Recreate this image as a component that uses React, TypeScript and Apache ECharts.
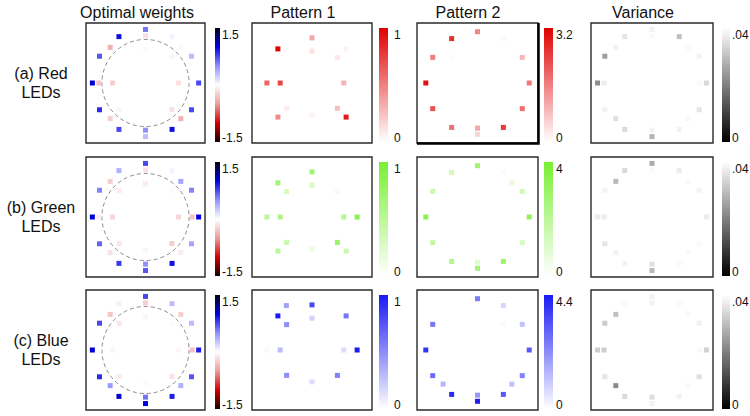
import { useEffect, useRef } from 'react';
import * as echarts from 'echarts';

// LED layout (outer ring A every 30deg, ring B and ring C every 45deg), in LED-board units
const LED_IDS = [
  'A0', 'A30', 'A60', 'A90', 'A120', 'A150', 'A180', 'A210', 'A240', 'A270', 'A300', 'A330',
  'B0', 'B45', 'B90', 'B135', 'B180', 'B225', 'B270', 'B315',
  'C0', 'C45', 'C90', 'C135', 'C180', 'C225', 'C270', 'C315',
];
const LED_X = [
  1, 0.866, 0.5, 0, -0.5, -0.866, -1, -0.866, -0.5, 0, 0.5, 0.866,
  0.88, 0.665, 0, -0.665, -0.88, -0.665, 0, 0.665,
  0.62, 0.495, 0, -0.495, -0.62, -0.495, 0, 0.495,
];
const LED_Y = [
  0, 0.5, 0.866, 1, 0.866, 0.5, 0, -0.5, -0.866, -1, -0.866, -0.5,
  0, 0.665, 0.88, 0.665, 0, -0.665, -0.88, -0.665,
  0, 0.495, 0.62, 0.495, 0, -0.495, -0.62, -0.495,
];

const COLUMN_TITLES = ['Optimal weights', 'Pattern 1', 'Pattern 2', 'Variance'];
const ROW_LABELS = ['(a) Red\nLEDs', '(b) Green\nLEDs', '(c) Blue\nLEDs'];

// Red LEDs
const RED_WEIGHTS = [
  0.75, 0.3, 0.05, 0.6, 0.95, 0.7, 1.02, 0.85, 0.75, 0.3, 0.95, 0.75,
  0, 0.03, -0.15, -0.4, -0.3, -0.25, 0.5, -0.4,
  -0.15, -0.05, -0.03, 0, -0.25, -0.05, 0, -0.15,
];
const RED_PATTERN1 = [
  0, 0, 0, 0, 0, 0, 0, 0, 0, 0, 0, 0,
  0, 0.05, 0.35, 1.0, 0.6, 0.45, 0, 0.9,
  0.3, 0.1, 0.12, 0, 0.72, 0.08, 0.05, 0.25,
];
const RED_PATTERN2 = [
  1.7, 0.9, 0.1, 1.5, 2.6, 1.6, 3.0, 2.2, 1.8, 0.55, 2.5, 1.8,
  0, 0, 0, 0, 0, 0, 1.1, 0,
  0, 0, 0, 0.05, 0, 0, 0, 0,
];
const RED_VARIANCE = [
  0.034, 0.038, 0.030, 0.038, 0.036, 0.025, 0.022, 0.038, 0.034, 0.028, 0.038, 0.036,
  0.039, 0.039, 0.039, 0.038, 0.037, 0.035, 0.038, 0.039,
  0.04, 0.04, 0.04, 0.04, 0.04, 0.04, 0.04, 0.04,
];

// Green LEDs
const GREEN_WEIGHTS = [
  1.0, 0.55, 0.05, 0.75, 0.35, 0.55, 1.02, 0.65, 0.8, 0.7, 0.95, 0.4,
  -0.3, 0.4, -0.15, -0.25, -0.1, -0.15, 0.5, -0.1,
  -0.2, 0.02, -0.1, -0.1, -0.2, -0.12, -0.05, -0.25,
];
const GREEN_PATTERN1 = [
  0, 0, 0, 0, 0, 0, 0, 0, 0, 0, 0, 0,
  0.85, 0, 0.7, 0.7, 0.5, 0.5, 0, 0.4,
  0.55, 0.1, 0.3, 0.3, 0.6, 0.4, 0.15, 0.75,
];
const GREEN_PATTERN2 = [
  3.3, 1.4, 0.2, 2.8, 1.3, 1.6, 3.5, 1.8, 2.3, 2.8, 3.0, 1.2,
  0, 0.7, 0, 0, 0, 0, 1.0, 0,
  0, 0, 0, 0, 0, 0, 0, 0,
];
const GREEN_VARIANCE = [
  0.037, 0.038, 0.037, 0.027, 0.034, 0.038, 0.037, 0.036, 0.038, 0.029, 0.039, 0.039,
  0.04, 0.039, 0.039, 0.029, 0.037, 0.038, 0.035, 0.039,
  0.04, 0.04, 0.04, 0.04, 0.04, 0.04, 0.04, 0.04,
];

// Blue LEDs
const BLUE_WEIGHTS = [
  0.9, 0.3, 0.3, 0.75, -0.08, 0.75, 1.05, 0.85, 1.02, 1.0, 0.9, 0.7,
  -0.3, -0.25, -0.25, -0.3, 0, 0.45, 0.6, 0.35,
  -0.05, 0.02, -0.05, -0.12, -0.05, -0.1, 0.02, -0.15,
];
const BLUE_PATTERN1 = [
  0, 0, 0, 0, 0.4, 0, 0, 0, 0, 0, 0, 0,
  1.0, 0.6, 0.8, 1.0, 0.03, 0, 0, 0,
  0.15, 0, 0.2, 0.5, 0.3, 0.5, 0.15, 0.55,
];
const BLUE_PATTERN2 = [
  3.2, 1.2, 0.8, 2.5, 0, 2.6, 3.9, 2.8, 4.1, 4.3, 3.2, 2.4,
  0, 0, 0, 0, 0, 1.4, 2.0, 1.2,
  0, 0.1, 0, 0, 0, 0, 0, 0,
];
const BLUE_VARIANCE = [
  0.033, 0.038, 0.039, 0.038, 0.039, 0.032, 0.032, 0.036, 0.034, 0.038, 0.038, 0.035,
  0.039, 0.039, 0.038, 0.030, 0.032, 0.022, 0.035, 0.039,
  0.04, 0.04, 0.04, 0.04, 0.04, 0.04, 0.04, 0.04,
];

// colour scales: [min, max] and tick labels [top, bottom]
const WEIGHT_RANGE = [-1.5, 1.5];
const WEIGHT_TICKS = ['1.5', '-1.5'];
const PATTERN1_RANGE = [0, 1];
const PATTERN1_TICKS = ['1', '0'];
const PATTERN2_MAX = [3.2, 4, 4.4];
const PATTERN2_TICKS = ['3.2', '4', '4.4'];
const VARIANCE_RANGE = [0, 0.04];
const VARIANCE_TICKS = ['.04', '0'];

const DASHED_CIRCLE_RADIUS = 0.82;

// styles
const WEIGHT_COLORS = ['#140000', '#d20000', '#eb9c9c', '#ffffff', '#9090ff', '#0000e0', '#000014'];
const RED_COLORS = ['#ffffff', '#e00000'];
const GREEN_COLORS = ['#ffffff', '#78f032'];
const BLUE_COLORS = ['#ffffff', '#1a1af5'];
const GRAY_COLORS = ['#000000', '#ffffff'];

const FONT = 'Liberation Sans, Arial, Helvetica, sans-serif';
const PANEL_LEFT = [86, 252, 417, 591];
const PANEL_W = [119, 120, 121, 122];
const ROW_TOP = [23, 157, 290];
const PANEL_H = 120;
const AXIS_HALF = [1.12, 1.17, 1.17, 1.12];
const CB_LEFT = [215, 379, 544, 722];
const CB_W = [5, 9, 9, 8];
const CB_LABEL_X = [222, 394, 556, 732];
const TITLE_X = [137, 303, 468, 643];

export default function App() {
  const ref = useRef<HTMLDivElement>(null);

  useEffect(() => {
    if (!ref.current) return;
    const chart = echarts.init(ref.current, undefined, { renderer: 'svg' });

    const rows = [
      [RED_WEIGHTS, RED_PATTERN1, RED_PATTERN2, RED_VARIANCE],
      [GREEN_WEIGHTS, GREEN_PATTERN1, GREEN_PATTERN2, GREEN_VARIANCE],
      [BLUE_WEIGHTS, BLUE_PATTERN1, BLUE_PATTERN2, BLUE_VARIANCE],
    ];
    const rowColors = [RED_COLORS, GREEN_COLORS, BLUE_COLORS];

    const grid: any[] = [];
    const xAxis: any[] = [];
    const yAxis: any[] = [];
    const series: any[] = [];
    const visualMap: any[] = [];
    const graphic: any[] = [];

    COLUMN_TITLES.forEach((t, c) => {
      graphic.push({
        type: 'text', x: TITLE_X[c], y: 12,
        style: { text: t, font: `16px ${FONT}`, fill: '#111', textAlign: 'center', textVerticalAlign: 'middle' },
      });
    });

    for (let r = 0; r < 3; r++) {
      graphic.push({
        type: 'text', x: 41, y: ROW_TOP[r] + 60,
        style: { text: ROW_LABELS[r], font: `16px ${FONT}`, fill: '#111', textAlign: 'center', textVerticalAlign: 'middle', lineHeight: 19 },
      });
      for (let c = 0; c < 4; c++) {
        const idx = r * 4 + c;
        const top = ROW_TOP[r];
        const h = AXIS_HALF[c];
        grid.push({
          left: PANEL_LEFT[c], top, width: PANEL_W[c], height: PANEL_H,
          show: true, borderColor: '#2a2a2a', borderWidth: 1.4, backgroundColor: '#fff',
        });
        xAxis.push({ gridIndex: idx, type: 'value', min: -h, max: h, show: false });
        yAxis.push({ gridIndex: idx, type: 'value', min: -h, max: h, show: false });
        const vals = rows[r][c];
        series.push({
          type: 'scatter', xAxisIndex: idx, yAxisIndex: idx,
          symbol: 'rect', symbolSize: 5,
          data: LED_X.map((x, i) => ({ name: LED_IDS[i], value: [x, LED_Y[i], vals[i]] })),
          itemStyle: { opacity: 1 },
          silent: true,
        });

        let min = 0, max = 1, colors = rowColors[r], ticks = PATTERN1_TICKS;
        if (c === 0) { min = WEIGHT_RANGE[0]; max = WEIGHT_RANGE[1]; colors = WEIGHT_COLORS; ticks = WEIGHT_TICKS; }
        else if (c === 1) { min = PATTERN1_RANGE[0]; max = PATTERN1_RANGE[1]; ticks = PATTERN1_TICKS; }
        else if (c === 2) { min = 0; max = PATTERN2_MAX[r]; ticks = [PATTERN2_TICKS[r], '0']; }
        else { min = VARIANCE_RANGE[0]; max = VARIANCE_RANGE[1]; colors = GRAY_COLORS; ticks = VARIANCE_TICKS; }

        visualMap.push({
          type: 'continuous', show: false, seriesIndex: idx, dimension: 2,
          min, max, inRange: { color: colors },
        });

        // colorbar
        const stops = colors.slice().reverse().map((col, k, arr) => ({ offset: k / (arr.length - 1), color: col }));
        graphic.push({
          type: 'rect',
          shape: { x: CB_LEFT[c], y: top + 5, width: CB_W[c], height: 114 },
          style: { fill: { type: 'linear', x: 0, y: 0, x2: 0, y2: 1, colorStops: stops } },
        });
        graphic.push({
          type: 'text', x: CB_LABEL_X[c], y: top + 12,
          style: { text: ticks[0], font: `12px ${FONT}`, fill: '#111', textAlign: 'left', textVerticalAlign: 'middle' },
        });
        graphic.push({
          type: 'text', x: CB_LABEL_X[c], y: top + 115,
          style: { text: ticks[1], font: `12px ${FONT}`, fill: '#111', textAlign: 'left', textVerticalAlign: 'middle' },
        });
      }
    }

    // dashed circles on optimal-weight panels
    for (let r = 0; r < 3; r++) {
      const idx = r * 4;
      series.push({
        type: 'custom', xAxisIndex: idx, yAxisIndex: idx, silent: true, z: 1,
        data: [[0, 0]],
        renderItem: (_p: any, api: any) => {
          const ctr = api.coord([0, 0]);
          const rad = api.size([DASHED_CIRCLE_RADIUS, 0])[0];
          return {
            type: 'circle',
            shape: { cx: ctr[0], cy: ctr[1], r: rad },
            style: { fill: 'none', stroke: '#8a8a8a', lineWidth: 1, lineDash: [4, 3] },
          };
        },
      });
    }

    // heavier frame edge on the red pattern-2 panel
    graphic.push({
      type: 'polyline',
      shape: { points: [[PANEL_LEFT[2] + PANEL_W[2] + 0.5, ROW_TOP[0]], [PANEL_LEFT[2] + PANEL_W[2] + 0.5, ROW_TOP[0] + PANEL_H + 0.5], [PANEL_LEFT[2], ROW_TOP[0] + PANEL_H + 0.5]] },
      style: { stroke: '#000', lineWidth: 2.5, fill: 'none' },
    });

    chart.setOption({
      animation: false,
      backgroundColor: '#ffffff',
      grid, xAxis, yAxis, series, visualMap, graphic,
    });

    return () => chart.dispose();
  }, []);

  return (
    <div
      ref={ref}
      style={{ position: 'fixed', left: 0, top: 0, width: 750, height: 416 }}
    />
  );
}
